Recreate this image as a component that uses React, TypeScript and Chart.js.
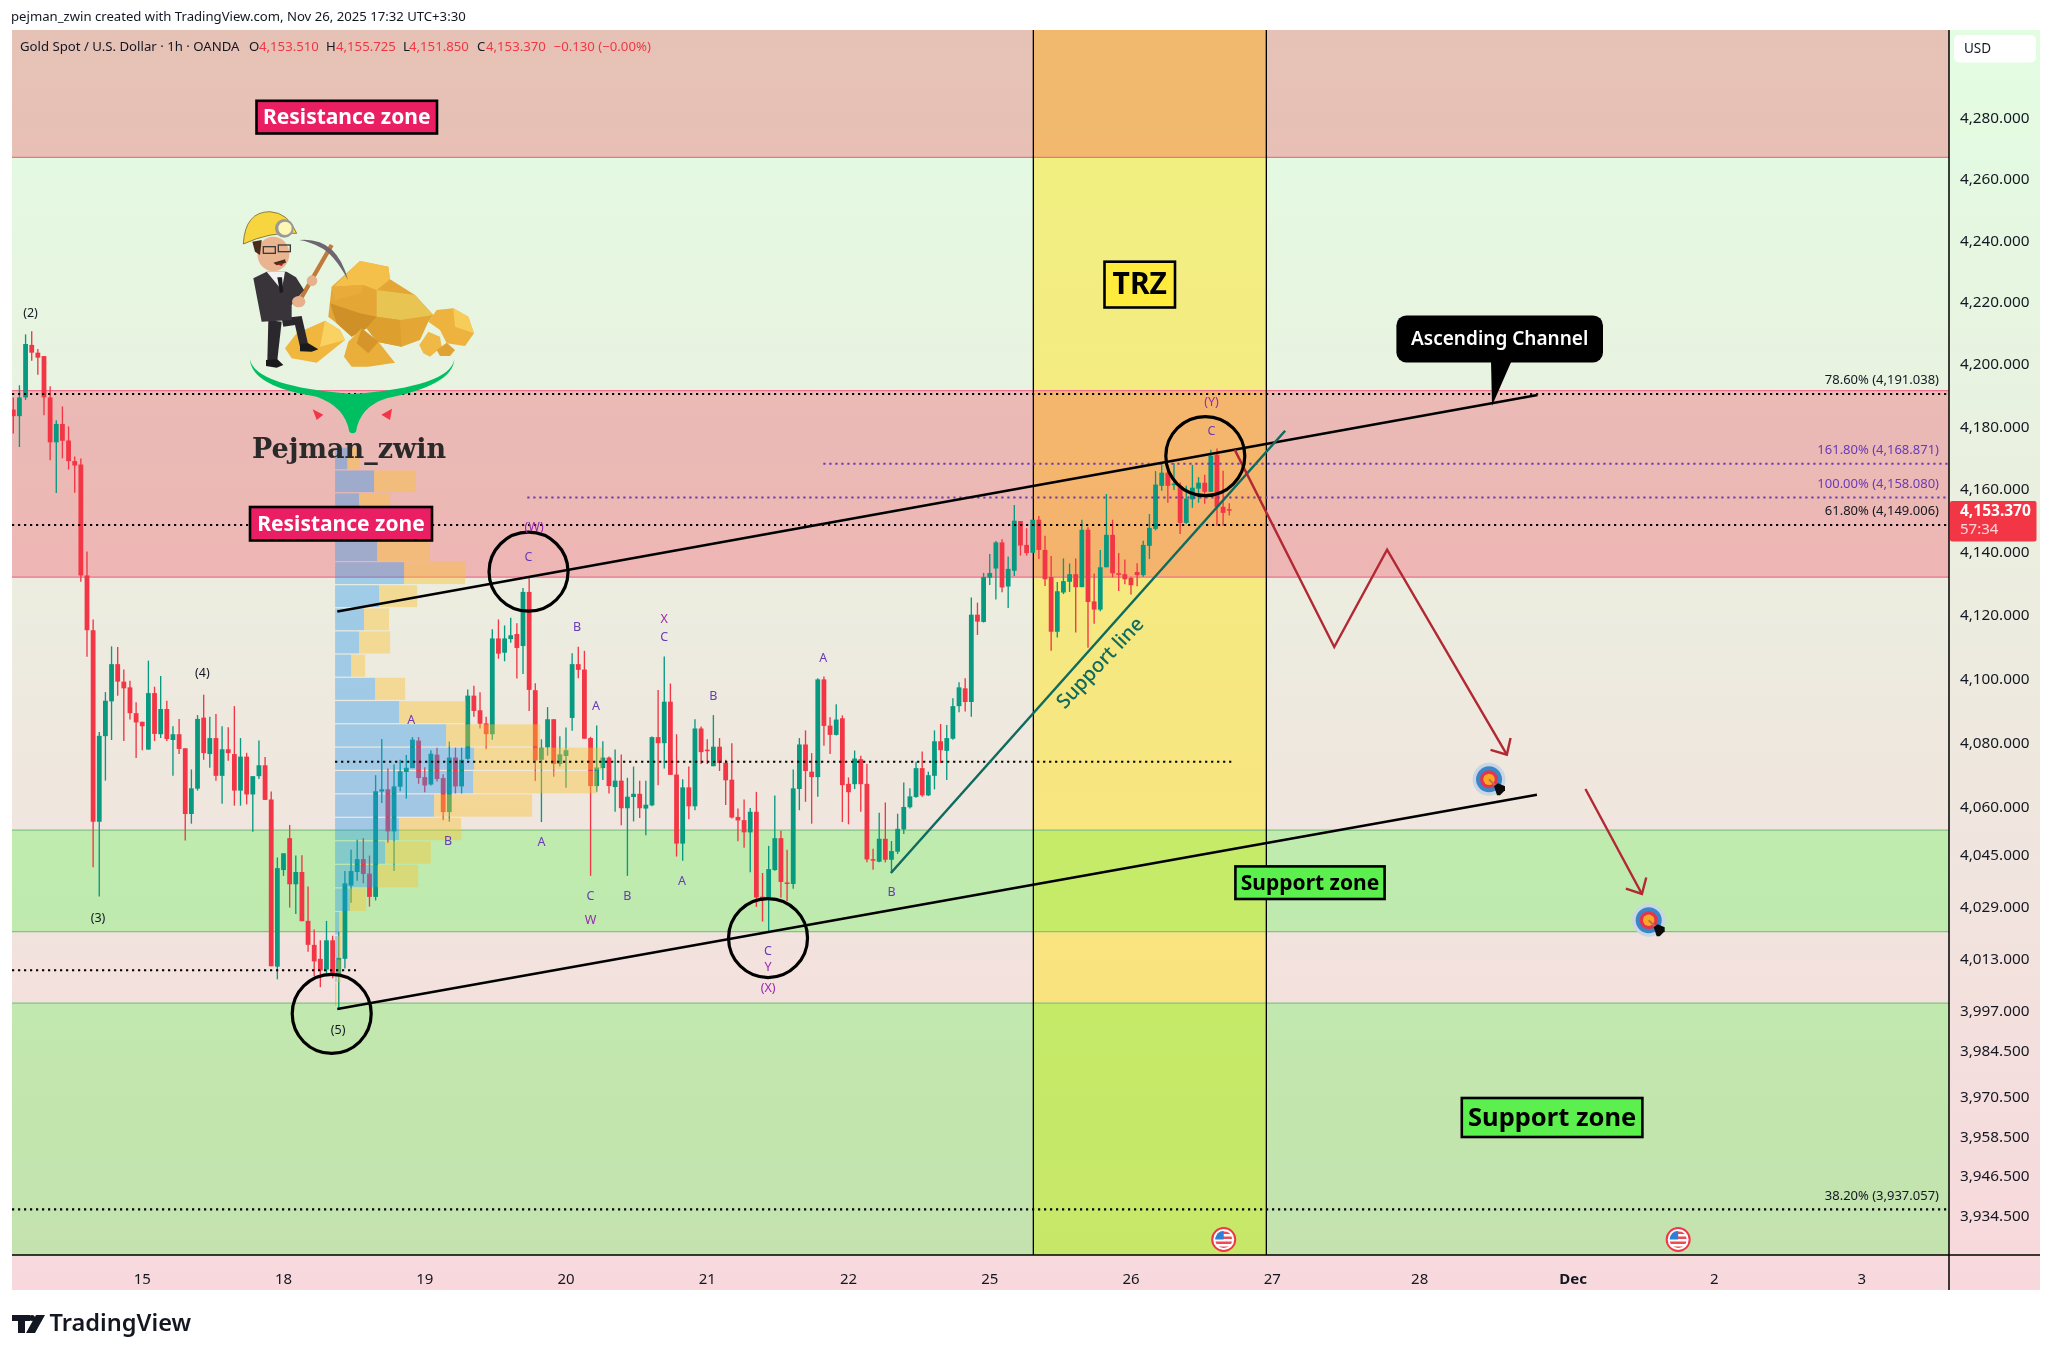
import React, { useEffect, useRef } from 'react';
import { Chart, registerables } from 'chart.js';

Chart.register(...registerables);

// --- candles (1h) ---
const opens = [
  4185.7, 4183.6, 4189.6, 4206.5, 4204.0, 4202.9, 4189.6, 4175.2, 4181.1, 4175.8,
  4169.2, 4168.1, 4132.8, 4115.5, 4055.5, 4082.2, 4093.1, 4104.8, 4099.3, 4097.5,
  4089.4, 4086.7, 4078.0, 4095.7, 4082.8, 4090.7, 4081.0, 4082.8, 4078.4, 4057.9,
  4065.8, 4088.0, 4076.6, 4081.6, 4069.8, 4078.1, 4076.6, 4065.2, 4075.8, 4064.0,
  4069.7, 4073.1, 4062.4, 4010.7, 4040.5, 4050.4, 4036.1, 4039.9, 4024.8, 4017.4,
  4013.1, 4009.8, 4018.8, 4007.8, 4013.1, 4035.7, 4039.9, 4043.9, 4039.4, 4032.2,
  4064.9, 4065.6, 4052.5, 4066.4, 4071.0, 4072.2, 4080.8, 4069.4, 4067.1, 4076.4,
  4069.1, 4058.5, 4075.5, 4066.5, 4075.1, 4094.9, 4090.3, 4086.2, 4082.8, 4112.9,
  4108.4, 4112.7, 4114.3, 4110.5, 4127.6, 4096.6, 4074.8, 4078.7, 4087.5, 4073.5,
  4076.0, 4087.9, 4104.8, 4103.1, 4081.6, 4066.6, 4072.2, 4075.5, 4066.3, 4068.3,
  4059.7, 4063.2, 4064.2, 4059.6, 4060.6, 4081.9, 4080.0, 4093.0, 4070.2, 4048.7,
  4066.2, 4060.3, 4084.6, 4077.7, 4072.8, 4078.9, 4073.9, 4068.6, 4057.0, 4056.0,
  4052.2, 4058.6, 4032.2, 4032.0, 4040.5, 4050.4, 4036.6, 4036.2, 4065.7, 4079.6,
  4071.1, 4069.4, 4100.0, 4085.5, 4082.6, 4087.8, 4067.3, 4067.2, 4075.0, 4067.3,
  4043.8, 4043.1, 4050.2, 4043.7, 4046.2, 4053.1, 4060.0, 4063.2, 4072.2, 4063.7,
  4069.8, 4080.6, 4077.6, 4081.4, 4091.6, 4097.2, 4092.9, 4120.4, 4118.1, 4132.1,
  4135.0, 4143.3, 4129.3, 4134.3, 4150.1, 4142.5, 4140.0, 4150.5, 4140.9, 4132.3,
  4115.0, 4127.4, 4130.8, 4133.2, 4129.1, 4147.3, 4124.6, 4122.0, 4135.4, 4145.7,
  4133.5, 4133.2, 4132.0, 4133.9, 4132.9, 4142.2, 4147.6, 4161.3, 4165.5, 4161.5,
  4161.3, 4149.5, 4157.0, 4160.4, 4162.3, 4159.4, 4171.2, 4154.6, 4153.51,
];
const highs = [
  4189.6, 4193.5, 4209.9, 4210.9, 4205.2, 4202.9, 4193.2, 4182.3, 4186.7, 4180.3,
  4170.7, 4170.0, 4140.4, 4118.9, 4083.5, 4096.0, 4110.4, 4110.2, 4103.1, 4099.6,
  4092.8, 4086.7, 4105.9, 4097.7, 4101.1, 4093.3, 4085.3, 4087.6, 4078.4, 4071.8,
  4088.8, 4095.2, 4088.3, 4089.1, 4085.3, 4085.0, 4091.6, 4081.6, 4077.0, 4069.7,
  4080.8, 4075.7, 4064.9, 4044.4, 4045.7, 4054.5, 4045.0, 4045.1, 4035.4, 4022.1,
  4018.8, 4024.8, 4020.2, 4021.4, 4040.2, 4046.8, 4049.9, 4050.4, 4045.0, 4070.0,
  4081.3, 4072.1, 4073.3, 4074.8, 4076.3, 4081.9, 4081.9, 4072.5, 4077.8, 4078.6,
  4070.3, 4080.5, 4078.6, 4078.6, 4096.8, 4098.0, 4096.0, 4088.3, 4115.8, 4118.9,
  4117.0, 4119.4, 4117.7, 4128.8, 4132.2, 4098.8, 4081.2, 4091.3, 4087.5, 4082.2,
  4084.9, 4108.2, 4110.3, 4109.0, 4082.0, 4085.5, 4080.6, 4075.8, 4078.0, 4076.5,
  4069.2, 4072.7, 4068.3, 4068.3, 4082.1, 4096.7, 4107.2, 4098.7, 4082.8, 4068.7,
  4072.7, 4087.5, 4085.2, 4081.2, 4088.8, 4081.6, 4074.8, 4080.0, 4059.6, 4062.4,
  4059.8, 4064.8, 4039.6, 4048.0, 4063.7, 4052.7, 4046.8, 4071.8, 4081.6, 4084.0,
  4076.9, 4100.4, 4100.9, 4088.1, 4092.2, 4088.7, 4069.3, 4077.7, 4076.1, 4073.5,
  4047.1, 4058.3, 4061.5, 4049.5, 4058.0, 4067.7, 4065.9, 4074.2, 4077.4, 4071.1,
  4084.0, 4086.0, 4085.7, 4094.1, 4099.1, 4100.4, 4125.8, 4124.2, 4133.6, 4139.6,
  4143.7, 4144.3, 4138.8, 4155.2, 4150.1, 4147.8, 4150.5, 4151.7, 4145.4, 4139.0,
  4130.7, 4138.2, 4136.6, 4138.2, 4150.5, 4148.1, 4133.4, 4140.9, 4158.7, 4150.5,
  4139.9, 4137.9, 4132.4, 4136.7, 4143.8, 4152.3, 4166.0, 4168.9, 4168.0, 4168.6,
  4162.4, 4161.3, 4168.0, 4164.1, 4164.8, 4172.8, 4173.2, 4166.1, 4155.725,
];
const lows = [
  4178.0, 4173.7, 4188.8, 4201.4, 4196.9, 4183.9, 4169.5, 4159.0, 4170.1, 4166.5,
  4159.1, 4130.8, 4107.1, 4041.4, 4032.3, 4068.3, 4081.0, 4094.9, 4080.7, 4087.4,
  4075.4, 4077.8, 4078.0, 4080.7, 4081.6, 4080.7, 4069.8, 4076.6, 4049.7, 4054.9,
  4065.2, 4074.8, 4072.3, 4068.3, 4061.1, 4074.5, 4060.5, 4060.5, 4060.9, 4052.4,
  4068.8, 4062.3, 4010.8, 4006.8, 4038.7, 4028.9, 4026.9, 4024.7, 4015.3, 4007.8,
  4004.4, 4007.8, 4007.1, 3997.6, 4010.1, 4030.4, 4037.2, 4036.4, 4029.2, 4031.1,
  4061.3, 4048.9, 4040.2, 4065.0, 4062.7, 4072.2, 4067.3, 4064.7, 4066.8, 4068.0,
  4056.0, 4055.5, 4064.3, 4064.3, 4074.8, 4088.3, 4084.6, 4078.1, 4081.1, 4106.5,
  4105.7, 4111.5, 4100.3, 4101.7, 4090.1, 4068.2, 4055.4, 4076.1, 4069.5, 4072.7,
  4066.1, 4083.9, 4100.4, 4081.4, 4038.7, 4064.8, 4068.5, 4064.3, 4058.6, 4054.4,
  4038.7, 4055.6, 4056.7, 4051.3, 4060.3, 4066.9, 4072.1, 4070.1, 4044.7, 4043.4,
  4056.3, 4059.1, 4073.5, 4073.5, 4072.8, 4071.3, 4060.7, 4056.5, 4049.4, 4047.4,
  4039.8, 4029.1, 4024.6, 4021.7, 4040.3, 4031.9, 4030.9, 4034.7, 4059.1, 4061.7,
  4054.9, 4063.3, 4079.2, 4076.6, 4082.4, 4055.4, 4054.7, 4065.7, 4058.6, 4042.9,
  4040.6, 4042.9, 4042.9, 4039.8, 4045.5, 4051.7, 4059.6, 4063.0, 4063.3, 4063.5,
  4065.6, 4073.8, 4068.5, 4081.1, 4089.7, 4089.9, 4088.3, 4114.0, 4117.9, 4129.8,
  4125.2, 4127.5, 4122.5, 4132.6, 4139.1, 4139.1, 4140.0, 4138.0, 4129.5, 4109.0,
  4113.2, 4126.9, 4127.6, 4114.8, 4129.1, 4110.0, 4117.5, 4121.5, 4135.4, 4132.2,
  4127.9, 4130.0, 4126.8, 4129.4, 4132.4, 4138.0, 4147.1, 4159.7, 4155.9, 4160.0,
  4146.0, 4149.2, 4154.3, 4155.9, 4155.6, 4159.4, 4148.6, 4148.6, 4151.85,
];
const closes = [
  4183.6, 4189.6, 4206.8, 4204.0, 4202.4, 4189.6, 4175.2, 4181.1, 4175.7, 4169.2,
  4167.8, 4132.8, 4115.5, 4055.5, 4082.3, 4093.3, 4104.8, 4099.3, 4097.2, 4089.4,
  4086.5, 4085.3, 4095.7, 4082.9, 4090.7, 4081.3, 4082.8, 4078.2, 4057.9, 4065.9,
  4087.6, 4076.9, 4081.6, 4069.8, 4078.1, 4076.9, 4065.2, 4075.8, 4064.0, 4069.7,
  4073.1, 4062.3, 4010.8, 4041.1, 4045.7, 4036.1, 4039.9, 4024.7, 4017.4, 4012.3,
  4009.5, 4018.8, 4007.8, 4013.4, 4036.4, 4040.2, 4043.9, 4039.3, 4032.2, 4065.0,
  4065.6, 4052.5, 4066.5, 4071.2, 4072.3, 4081.1, 4069.1, 4066.8, 4076.7, 4068.8,
  4058.5, 4075.5, 4066.5, 4074.8, 4094.9, 4090.1, 4086.1, 4082.8, 4112.9, 4108.1,
  4112.9, 4113.9, 4109.9, 4127.6, 4096.7, 4074.6, 4078.6, 4087.5, 4073.5, 4076.5,
  4077.8, 4104.8, 4103.0, 4081.4, 4066.6, 4072.4, 4075.5, 4066.6, 4068.3, 4059.7,
  4063.3, 4064.2, 4059.7, 4060.8, 4081.9, 4080.0, 4093.0, 4070.1, 4048.7, 4066.2,
  4060.3, 4084.6, 4077.2, 4077.5, 4078.9, 4073.8, 4068.4, 4056.8, 4055.9, 4052.2,
  4058.6, 4032.0, 4031.8, 4040.8, 4050.4, 4036.8, 4036.2, 4065.9, 4079.6, 4071.3,
  4069.4, 4100.0, 4085.4, 4082.6, 4087.4, 4066.9, 4064.7, 4075.2, 4067.2, 4043.8,
  4043.4, 4050.2, 4043.7, 4046.4, 4053.3, 4060.1, 4063.4, 4072.2, 4063.7, 4070.0,
  4080.6, 4077.8, 4081.6, 4091.6, 4097.5, 4092.9, 4120.4, 4118.2, 4132.3, 4133.6,
  4143.3, 4129.0, 4134.9, 4150.2, 4142.3, 4139.9, 4150.5, 4140.9, 4131.6, 4115.0,
  4127.8, 4131.0, 4133.2, 4129.1, 4147.3, 4124.4, 4122.0, 4135.4, 4145.7, 4133.5,
  4133.0, 4131.6, 4129.7, 4132.9, 4142.5, 4147.9, 4161.7, 4165.5, 4161.3, 4162.0,
  4149.5, 4157.2, 4160.7, 4162.3, 4159.4, 4170.9, 4154.5, 4152.7, 4153.37,
];

// --- axes ---
const priceTicks = [
  4280, 4260, 4240, 4220, 4200, 4180, 4160, 4140, 4120, 4100, 4080, 4060, 4045, 4029, 4013, 3997,
  3984.5, 3970.5, 3958.5, 3946.5, 3934.5,
];
const dayTicks = [21, 44, 67, 90, 113, 136, 159, 182, 205, 229, 254, 277, 301];
const dayLabels = ['15', '18', '19', '20', '21', '22', '25', '26', '27', '28', 'Dec', '2', '3'];

// --- zones, [price top, price bottom] ---
const resistanceZones = [
  [4315, 4267.4],
  [4191.8, 4132.3],
];
const supportZones = [
  [4052.9, 4021.5],
  [3999.5, 3900],
];
const reversalBars = [166.1, 204.04];

// --- volume profile ---
const vpStartBar = 52.4;
const vpRowTop = [
  4173.5, 4166.2, 4158.9, 4151.6, 4144.3, 4137.0, 4129.7, 4122.4, 4115.1, 4107.8, 4100.5, 4093.2,
  4085.9, 4078.6, 4071.3, 4064.0, 4056.7, 4049.4, 4042.1, 4034.8, 4027.5, 4020.2, 4012.9, 4005.6,
];
const vpUp = [
  2.0, 6.35, 3.9, 5.2, 6.84, 11.24, 7.17, 4.72, 3.91, 2.61, 6.51, 10.42, 18.08, 22.64, 22.48, 16.12,
  10.42, 8.14, 6.84, 2.44, 0.65, 0.43, 0.27, 0.1,
];
const vpDown = [
  2.0, 6.8, 5.05, 5.4, 8.58, 9.93, 6.19, 4.07, 5.05, 2.28, 4.89, 10.91, 15.31, 20.85, 20.2, 15.96,
  10.1, 7.44, 6.68, 2.61, 0.54, 0.65, 0.65, 0.16,
];

// --- drawings, in [bar, price] ---
const upperChannel = [[52.76, 4121.4], [248.2, 4190.4]];
const lowerChannel = [[52.76, 3997.7], [248.1, 4063.9]];
const supportLine = [[142.9, 4039.6], [207.1, 4178.9]];
const projectionA = [[198.9, 4172.8], [215.1, 4110.2], [223.7, 4141.0], [243.2, 4076.4]];
const projectionB = [[256.0, 4065.7], [265.2, 4033.1]];
const circles = [[51.85, 3996.2], [83.9, 4134.0], [122.9, 4019.5], [194.1, 4170.8]];
const targets = [[240.3, 4068.7], [266.3, 4025.0]];
const newsFlags = [197.1, 271.1];

const fibLevels = [
  { label: '78.60% (4,191.038)', price: 4191.038, from: -1, color: '#131722', line: '#000000', nudge: 1 },
  { label: '161.80% (4,168.871)', price: 4168.871, from: 131.9, color: '#673ab7', line: '#673ab7', nudge: 1.6 },
  { label: '100.00% (4,158.080)', price: 4158.08, from: 83.7, color: '#673ab7', line: '#673ab7', nudge: 1.6 },
  { label: '61.80% (4,149.006)', price: 4149.006, from: -1, color: '#131722', line: '#000000', nudge: 0.6 },
  { label: '38.20% (3,937.057)', price: 3937.057, from: -1, color: '#131722', line: '#000000', nudge: 1 },
];
const plainDotted = [
  [52.4, 198.4, 4074.2],
  [-1, 55.8, 4009.6],
];

const BLUE_WAVE = '#673ab7';
const PINK_WAVE = '#9c27b0';
const waveLabels: [string, number, number, string][] = [
  ['(2)', 2.8, 4216.7, '#131722'],
  ['(3)', 13.8, 4025.6, '#131722'],
  ['(4)', 30.8, 4101.9, '#131722'],
  ['(5)', 52.9, 3991.1, '#131722'],
  ['A', 64.8, 4087.0, BLUE_WAVE],
  ['B', 70.8, 4049.4, BLUE_WAVE],
  ['(W)', 84.8, 4147.9, PINK_WAVE],
  ['C', 83.9, 4138.4, BLUE_WAVE],
  ['B', 91.8, 4116.3, BLUE_WAVE],
  ['A', 94.9, 4091.4, BLUE_WAVE],
  ['A', 86.0, 4049.1, BLUE_WAVE],
  ['C', 94.0, 4032.4, BLUE_WAVE],
  ['W', 94.0, 4025.0, PINK_WAVE],
  ['B', 100.0, 4032.4, BLUE_WAVE],
  ['X', 106.0, 4118.8, PINK_WAVE],
  ['C', 106.0, 4113.1, BLUE_WAVE],
  ['A', 108.9, 4037.1, BLUE_WAVE],
  ['B', 114.0, 4094.5, BLUE_WAVE],
  ['A', 131.9, 4106.6, BLUE_WAVE],
  ['C', 122.9, 4015.5, BLUE_WAVE],
  ['Y', 122.9, 4010.3, PINK_WAVE],
  ['(X)', 122.9, 4004.0, PINK_WAVE],
  ['B', 143.0, 4033.7, BLUE_WAVE],
  ['(Y)', 195.1, 4188.1, PINK_WAVE],
  ['C', 195.1, 4178.7, BLUE_WAVE],
];

const candleColors = opens.map((o, i) => (closes[i] >= o ? '#089981' : '#f23645'));
const FONT = '"Noto Sans", sans-serif';
const LEFT = 12;
const RIGHT = 1949;
const TOP = 30;
const BOTTOM = 1255;
const OUTER_RIGHT = 2040;
const OUTER_BOTTOM = 1290;

function poly(ctx: any, pts: number[][], fill: string) {
  ctx.fillStyle = fill;
  ctx.beginPath();
  pts.forEach((p, i) => (i ? ctx.lineTo(p[0], p[1]) : ctx.moveTo(p[0], p[1])));
  ctx.closePath();
  ctx.fill();
}

function text(ctx: any, s: string, x: number, y: number, font: string, color: string, align = 'left') {
  ctx.font = font;
  ctx.fillStyle = color;
  ctx.textAlign = align;
  ctx.textBaseline = 'middle';
  ctx.fillText(s, x, y);
}

function labelBox(ctx: any, s: string, x0: number, y0: number, x1: number, y1: number, fill: string, color: string, font: string) {
  ctx.fillStyle = fill;
  ctx.fillRect(x0, y0, x1 - x0, y1 - y0);
  ctx.strokeStyle = '#000000';
  ctx.lineWidth = 2.6;
  ctx.strokeRect(x0, y0, x1 - x0, y1 - y0);
  text(ctx, s, (x0 + x1) / 2, (y0 + y1) / 2 + 1, font, color, 'center');
}

// miner mascot, drawn in 3x units of a 280x120 box
function drawMiner(ctx: any) {
  ctx.save();
  ctx.translate(220, 190);
  ctx.scale(1 / 3, 1 / 3);
  // rocks
  poly(ctx, [[335, 290], [420, 213], [505, 230], [510, 268], [585, 315], [640, 375], [625, 395], [600, 450], [545, 470], [470, 455], [440, 415], [395, 440], [350, 400], [325, 380]], '#e4a735');
  poly(ctx, [[420, 213], [505, 230], [510, 268], [470, 300], [430, 285], [340, 290]], '#f5c04a');
  poly(ctx, [[335, 290], [430, 285], [425, 310], [345, 330]], '#e9ab3a');
  poly(ctx, [[470, 300], [585, 315], [640, 375], [540, 390], [470, 380]], '#e8c552');
  poly(ctx, [[330, 340], [420, 370], [470, 380], [440, 415], [395, 440], [350, 400]], '#cf9028');
  poly(ctx, [[470, 380], [540, 390], [545, 470], [470, 455], [440, 415]], '#dd9f2e');
  poly(ctx, [[195, 475], [230, 430], [315, 392], [360, 420], [375, 450], [290, 518], [215, 505]], '#f0b63e');
  poly(ctx, [[315, 392], [360, 420], [375, 450], [300, 470]], '#f9d262');
  poly(ctx, [[372, 500], [385, 455], [425, 415], [475, 455], [525, 518], [445, 530], [395, 530]], '#eaae3a');
  poly(ctx, [[425, 415], [475, 455], [445, 490], [410, 460]], '#d5952b');
  poly(ctx, [[625, 395], [650, 360], [700, 355], [745, 380], [762, 430], [735, 468], [680, 460], [660, 420]], '#eeb23e');
  poly(ctx, [[700, 355], [745, 380], [762, 430], [705, 410]], '#f7cd5a');
  poly(ctx, [[598, 465], [625, 425], [660, 440], [665, 470], [630, 500], [610, 490]], '#f0b844');
  poly(ctx, [[650, 480], [680, 458], [705, 480], [690, 498], [660, 498]], '#e0a233');
  // pickaxe
  ctx.strokeStyle = '#c27a3a';
  ctx.lineWidth = 13;
  ctx.beginPath();
  ctx.moveTo(240, 330);
  ctx.lineTo(335, 165);
  ctx.stroke();
  ctx.fillStyle = '#6d6670';
  ctx.beginPath();
  ctx.moveTo(238, 150);
  ctx.quadraticCurveTo(350, 140, 384, 270);
  ctx.quadraticCurveTo(340, 190, 300, 172);
  ctx.quadraticCurveTo(270, 155, 238, 150);
  ctx.fill();
  // legs and shoes
  poly(ctx, [[145, 390], [185, 395], [172, 510], [142, 510]], '#2a282c');
  poly(ctx, [[185, 385], [245, 378], [265, 465], [240, 470], [225, 405], [190, 410]], '#2a282c');
  poly(ctx, [[138, 510], [172, 508], [190, 525], [170, 533], [138, 528]], '#1a1a1a');
  poly(ctx, [[240, 462], [265, 460], [295, 478], [275, 485], [240, 484]], '#1a1a1a');
  // suit, shirt, tie
  poly(ctx, [[100, 265], [140, 245], [200, 245], [228, 262], [252, 300], [215, 345], [215, 390], [125, 395]], '#38343a');
  poly(ctx, [[140, 245], [195, 245], [185, 300]], '#f2f2f2');
  poly(ctx, [[172, 262], [186, 262], [190, 305], [180, 310]], '#1b1b1e');
  // hands
  ctx.fillStyle = '#e8b18c';
  ctx.beginPath();
  ctx.ellipse(236, 335, 20, 17, 0, 0, Math.PI * 2);
  ctx.ellipse(276, 272, 16, 16, 0, 0, Math.PI * 2);
  ctx.fill();
  // head
  ctx.fillStyle = '#eab491';
  ctx.beginPath();
  ctx.ellipse(160, 192, 48, 52, 0, 0, Math.PI * 2);
  ctx.fill();
  poly(ctx, [[97, 155], [125, 150], [120, 195], [105, 185]], '#4a2c1b');
  ctx.strokeStyle = '#3b3b3b';
  ctx.lineWidth = 4;
  ctx.strokeRect(130, 170, 36, 20);
  ctx.strokeRect(175, 165, 36, 20);
  poly(ctx, [[160, 218], [195, 208], [198, 218], [170, 226]], '#4a2c1b');
  poly(ctx, [[168, 222], [192, 218], [185, 228]], '#a3202a');
  // helmet
  ctx.fillStyle = '#f6d53f';
  ctx.strokeStyle = '#5a4a20';
  ctx.lineWidth = 2;
  ctx.beginPath();
  ctx.moveTo(70, 162);
  ctx.quadraticCurveTo(75, 65, 150, 65);
  ctx.quadraticCurveTo(205, 68, 230, 130);
  ctx.quadraticCurveTo(150, 125, 70, 162);
  ctx.fill();
  ctx.stroke();
  ctx.fillStyle = '#9a9a96';
  ctx.beginPath();
  ctx.arc(193, 115, 28, 0, Math.PI * 2);
  ctx.fill();
  ctx.fillStyle = '#fdf6b4';
  ctx.beginPath();
  ctx.arc(195, 115, 20, 0, Math.PI * 2);
  ctx.fill();
  // green swoosh
  ctx.fillStyle = '#00bf63';
  ctx.beginPath();
  ctx.moveTo(90, 508);
  ctx.quadraticCurveTo(105, 590, 400, 612);
  ctx.quadraticCurveTo(690, 590, 703, 508);
  ctx.quadraticCurveTo(700, 585, 500, 625);
  ctx.quadraticCurveTo(420, 650, 408, 725);
  ctx.quadraticCurveTo(398, 735, 388, 725);
  ctx.quadraticCurveTo(375, 650, 290, 620);
  ctx.quadraticCurveTo(95, 590, 90, 508);
  ctx.fill();
  poly(ctx, [[278, 658], [310, 674], [290, 690]], '#f23645');
  poly(ctx, [[484, 674], [516, 656], [510, 690]], '#f23645');
  ctx.restore();
}

function drawTarget(ctx: any, x: number, y: number) {
  const rings: [number, string][] = [[16.5, '#c9d6e3'], [13, '#3a87c8'], [9, '#e5344e'], [5.7, '#f8a825']];
  rings.forEach(([r, c]) => {
    ctx.fillStyle = c;
    ctx.beginPath();
    ctx.arc(x, y, r, 0, Math.PI * 2);
    ctx.fill();
  });
  ctx.strokeStyle = '#c96a4a';
  ctx.lineWidth = 2;
  ctx.beginPath();
  ctx.moveTo(x, y);
  ctx.lineTo(x + 12, y + 12);
  ctx.stroke();
  poly(ctx, [[x + 5, y + 7], [x + 9, y + 4], [x + 16, y + 7], [x + 16, y + 11], [x + 11, y + 16], [x + 8, y + 16]], '#0b0b0b');
}

function drawFlag(ctx: any, x: number, y: number) {
  ctx.fillStyle = '#ffffff';
  ctx.strokeStyle = '#f23645';
  ctx.lineWidth = 2;
  ctx.beginPath();
  ctx.arc(x, y, 11.5, 0, Math.PI * 2);
  ctx.fill();
  ctx.stroke();
  ctx.save();
  ctx.beginPath();
  ctx.arc(x, y, 8.5, 0, Math.PI * 2);
  ctx.clip();
  ctx.fillStyle = '#ef4a55';
  for (let k = -8; k < 9; k += 5) ctx.fillRect(x - 9, y + k, 18, 2.5);
  ctx.fillStyle = '#2e7fd6';
  ctx.fillRect(x - 9, y - 9, 9, 9);
  ctx.restore();
}

const backgroundPlugin = {
  id: 'tvBackground',
  beforeDraw(chart: any) {
    const { ctx } = chart;
    const g = ctx.createLinearGradient(0, TOP, 0, OUTER_BOTTOM);
    g.addColorStop(0, '#e2fde2');
    g.addColorStop(1, '#f8d8dc');
    ctx.save();
    ctx.fillStyle = '#ffffff';
    ctx.fillRect(0, 0, 2052, 1358);
    ctx.fillStyle = g;
    ctx.fillRect(LEFT, TOP, OUTER_RIGHT - LEFT, OUTER_BOTTOM - TOP);
    ctx.restore();
  },
  beforeDatasetsDraw(chart: any) {
    const { ctx, scales } = chart;
    const x = scales.x;
    const y = scales.y;
    ctx.save();
    ctx.beginPath();
    ctx.rect(LEFT, TOP, RIGHT - LEFT, BOTTOM - TOP);
    ctx.clip();
    // reversal band first, zones tint it
    const bx0 = x.getPixelForValue(reversalBars[0]);
    const bx1 = x.getPixelForValue(reversalBars[1]);
    ctx.fillStyle = 'rgba(255,230,34,0.5)';
    ctx.fillRect(bx0, TOP, bx1 - bx0, BOTTOM - TOP);
    const zone = (z: number[], fill: string, edge: string) => {
      const t = y.getPixelForValue(z[0]);
      const b = y.getPixelForValue(z[1]);
      ctx.fillStyle = fill;
      ctx.fillRect(LEFT, t, RIGHT - LEFT, b - t);
      ctx.strokeStyle = edge;
      ctx.lineWidth = 1.3;
      ctx.beginPath();
      ctx.moveTo(LEFT, t);
      ctx.lineTo(RIGHT, t);
      ctx.moveTo(LEFT, b);
      ctx.lineTo(RIGHT, b);
      ctx.stroke();
    };
    resistanceZones.forEach((z) => zone(z, 'rgba(242,20,50,0.25)', '#ee6f8e'));
    supportZones.forEach((z) => zone(z, 'rgba(44,255,36,0.25)', '#82c382'));
    ctx.strokeStyle = '#000000';
    ctx.lineWidth = 1.3;
    ctx.beginPath();
    ctx.moveTo(bx0, TOP);
    ctx.lineTo(bx0, BOTTOM);
    ctx.moveTo(bx1, TOP);
    ctx.lineTo(bx1, BOTTOM);
    ctx.stroke();
    ctx.restore();
  },
  afterDatasetsDraw(chart: any) {
    const { ctx, scales } = chart;
    const x = scales.x;
    const y = scales.y;
    const px = (v: number) => x.getPixelForValue(v);
    const py = (v: number) => y.getPixelForValue(v);
    ctx.save();

    // volume profile over the candles
    vpRowTop.forEach((top, i) => {
      const t = py(top);
      const b = py(top - 7.3) - 1.2;
      const x0 = px(vpStartBar);
      const x1 = px(vpStartBar + vpUp[i]);
      const x2 = px(vpStartBar + vpUp[i] + vpDown[i]);
      ctx.fillStyle = 'rgba(33,150,243,0.38)';
      ctx.fillRect(x0, t, x1 - x0, b - t);
      ctx.fillStyle = 'rgba(251,192,45,0.42)';
      ctx.fillRect(x1, t, x2 - x1, b - t);
    });

    // dotted levels
    const dotted = (from: number, to: number, yy: number, color: string) => {
      ctx.strokeStyle = color;
      ctx.lineWidth = 2.1;
      ctx.setLineDash([2.2, 3.8]);
      ctx.beginPath();
      ctx.moveTo(Math.max(LEFT, px(from)), yy);
      ctx.lineTo(to, yy);
      ctx.stroke();
      ctx.setLineDash([]);
    };
    fibLevels.forEach((f) => {
      const yy = py(f.price) + f.nudge;
      dotted(f.from, RIGHT, yy, f.line);
      text(ctx, f.label, 1939, yy - 13.5, `13px ${FONT}`, f.color, 'right');
    });
    plainDotted.forEach((d) => dotted(d[0], px(d[1]), py(d[2]), '#000000'));

    const polyline = (pts: number[][], color: string, width: number) => {
      ctx.strokeStyle = color;
      ctx.lineWidth = width;
      ctx.lineJoin = 'miter';
      ctx.beginPath();
      pts.forEach((p, i) => (i ? ctx.lineTo(px(p[0]), py(p[1])) : ctx.moveTo(px(p[0]), py(p[1]))));
      ctx.stroke();
    };
    const arrowHead = (pts: number[][], color: string) => {
      const a = pts[pts.length - 2];
      const b = pts[pts.length - 1];
      const tx = px(b[0]);
      const ty = py(b[1]);
      const ang = Math.atan2(ty - py(a[1]), tx - px(a[0]));
      ctx.strokeStyle = color;
      ctx.lineWidth = 2.4;
      ctx.beginPath();
      ctx.moveTo(tx - 17 * Math.cos(ang - 0.75), ty - 17 * Math.sin(ang - 0.75));
      ctx.lineTo(tx, ty);
      ctx.lineTo(tx - 17 * Math.cos(ang + 0.75), ty - 17 * Math.sin(ang + 0.75));
      ctx.stroke();
    };
    polyline(upperChannel, '#000000', 2.5);
    polyline(lowerChannel, '#000000', 2.5);
    polyline(supportLine, '#0e6b5e', 2.5);
    polyline(projectionA, '#b22833', 2.4);
    arrowHead(projectionA, '#b22833');
    polyline(projectionB, '#b22833', 2.4);
    arrowHead(projectionB, '#b22833');

    ctx.strokeStyle = '#000000';
    ctx.lineWidth = 3.2;
    circles.forEach((c) => {
      ctx.beginPath();
      ctx.arc(px(c[0]), py(c[1]), 39.5, 0, Math.PI * 2);
      ctx.stroke();
    });

    waveLabels.forEach(([s, b, p, c]) => {
      text(ctx, s, px(b), py(p), `12.5px ${FONT}`, c, 'center');
    });

    targets.forEach((t) => drawTarget(ctx, px(t[0]), py(t[1])));
    newsFlags.forEach((b) => drawFlag(ctx, px(b), 1239.5));

    // mascot and captions
    drawMiner(ctx);
    text(ctx, 'Pejman_zwin', 349, 451, 'bold 27px "DejaVu Serif", serif', '#2a2a2a', 'center');
    labelBox(ctx, 'Resistance zone', 256.5, 100.8, 437, 133.5, '#e91e63', '#ffffff', `bold 21px ${FONT}`);
    labelBox(ctx, 'Resistance zone', 250, 507, 432, 540.5, '#e91e63', '#ffffff', `bold 21px ${FONT}`);
    labelBox(ctx, 'TRZ', 1104.5, 261.7, 1175, 307.5, '#ffeb3b', '#000000', `bold 30px ${FONT}`);
    labelBox(ctx, 'Support zone', 1235.4, 866.4, 1384.6, 899, '#5cf04e', '#000000', `bold 21px ${FONT}`);
    labelBox(ctx, 'Support zone', 1461.8, 1098, 1642.4, 1137, '#5cf04e', '#000000', `bold 25.5px ${FONT}`);

    // ascending channel callout
    ctx.fillStyle = '#000000';
    ctx.beginPath();
    ctx.roundRect(1396.4, 315.4, 206.6, 47, 10);
    ctx.fill();
    poly(ctx, [[1491, 360], [1512, 360], [1492, 405.7]], '#000000');
    text(ctx, 'Ascending Channel', 1499.7, 339.5, `600 19px ${FONT}`, '#ffffff', 'center');

    // rotated trend caption
    ctx.save();
    ctx.translate(1100.6, 663.5);
    ctx.rotate((-46.6 * Math.PI) / 180);
    text(ctx, 'Support line', 0, 0, `500 20px ${FONT}`, '#0e6b5e', 'center');
    ctx.restore();

    // pane frame
    ctx.strokeStyle = '#000000';
    ctx.lineWidth = 1.5;
    ctx.beginPath();
    ctx.moveTo(RIGHT, TOP);
    ctx.lineTo(RIGHT, OUTER_BOTTOM);
    ctx.moveTo(LEFT, BOTTOM);
    ctx.lineTo(OUTER_RIGHT, BOTTOM);
    ctx.stroke();

    // USD box and last price tag
    ctx.fillStyle = '#ffffff';
    ctx.beginPath();
    ctx.roundRect(1954, 35, 82, 27.5, 5);
    ctx.fill();
    text(ctx, 'USD', 1964, 49, `13.5px ${FONT}`, '#131722');
    ctx.fillStyle = '#f23645';
    ctx.beginPath();
    ctx.roundRect(1950, 501, 86.5, 40.5, 2);
    ctx.fill();
    text(ctx, '4,153.370', 1960, 511.5, `bold 15.5px ${FONT}`, '#ffffff');
    text(ctx, '57:34', 1960, 530, `15px ${FONT}`, '#ffd5d9');

    // header, legend, logo
    text(ctx, 'pejman_zwin created with TradingView.com, Nov 26, 2025 17:32 UTC+3:30', 11, 17, `13.15px ${FONT}`, '#131722');
    text(ctx, 'Gold Spot / U.S. Dollar · 1h · OANDA', 20, 47, `13.2px ${FONT}`, '#131722');
    const ohlc: [string, number, string, number][] = [
      ['O', 249, '4,153.510', 259],
      ['H', 326, '4,155.725', 336],
      ['L', 403, '4,151.850', 409],
      ['C', 477, '4,153.370', 486],
    ];
    ohlc.forEach(([k, kx, v, vx]) => {
      text(ctx, k, kx, 47, `13.2px ${FONT}`, '#131722');
      text(ctx, v, vx, 47, `13.2px ${FONT}`, '#f23645');
    });
    text(ctx, '−0.130 (−0.00%)', 553.6, 47, `13.2px ${FONT}`, '#f23645');

    ctx.fillStyle = '#131722';
    ctx.fillRect(12, 1315, 18, 6);
    ctx.fillRect(18, 1315, 7, 18);
    ctx.beginPath();
    ctx.arc(32, 1318, 3, 0, Math.PI * 2);
    ctx.fill();
    poly(ctx, [[36, 1315], [45, 1315], [35, 1333], [26, 1333]], '#131722');
    text(ctx, 'TradingView', 49.5, 1324, `600 23.6px ${FONT}`, '#131722');
    ctx.restore();
  },
};

export default function App() {
  const canvasRef = useRef<HTMLCanvasElement>(null);

  useEffect(() => {
    if (!canvasRef.current) return;
    const bars = opens.map((_, i) => i);

    const chart = new Chart(canvasRef.current, {
      type: 'bar',
      data: {
        datasets: [
          {
            label: 'wick',
            data: bars.map((i) => ({ x: i, y: [lows[i], highs[i]] })),
            backgroundColor: candleColors,
            grouped: false,
            categoryPercentage: 1,
            barPercentage: 0.22,
            order: 2,
          },
          {
            label: 'body',
            data: bars.map((i) => ({ x: i, y: [Math.min(opens[i], closes[i]), Math.max(opens[i], closes[i])] })),
            backgroundColor: candleColors,
            grouped: false,
            categoryPercentage: 1,
            barPercentage: 0.78,
            minBarLength: 1.5,
            order: 1,
          },
        ] as any,
      },
      options: {
        animation: false,
        responsive: false,
        devicePixelRatio: 1,
        layout: { padding: { left: LEFT, top: TOP, right: 2052 - OUTER_RIGHT, bottom: 1358 - OUTER_BOTTOM } },
        plugins: { legend: { display: false }, tooltip: { enabled: false } },
        scales: {
          x: {
            type: 'linear',
            min: -0.21,
            max: 315.2,
            offset: false,
            grid: { display: false, offset: false },
            border: { display: false },
            afterBuildTicks: (s: any) => {
              s.ticks = dayTicks.map((v) => ({ value: v }));
            },
            afterFit: (s: any) => {
              s.height = OUTER_BOTTOM - BOTTOM;
            },
            ticks: {
              autoSkip: false,
              maxRotation: 0,
              padding: 8,
              color: '#131722',
              font: (c: any) => ({
                family: FONT,
                size: 15,
                weight: dayLabels[c.index] === 'Dec' ? 'bold' : 'normal',
              }),
              callback: (_v: any, i: number) => dayLabels[i],
            },
          },
          y: {
            type: 'logarithmic',
            position: 'right',
            min: 3923,
            max: 4309.3,
            bounds: 'data',
            grid: { display: false },
            border: { display: false },
            afterBuildTicks: (s: any) => {
              s.ticks = priceTicks.map((v) => ({ value: v, major: false }));
            },
            afterFit: (s: any) => {
              s.width = OUTER_RIGHT - RIGHT;
            },
            ticks: {
              autoSkip: false,
              padding: 3,
              color: '#131722',
              font: { family: FONT, size: 15.3 },
              callback: (v: any) =>
                Number(v).toLocaleString('en-US', { minimumFractionDigits: 3, maximumFractionDigits: 3 }),
            },
          },
        },
      } as any,
      plugins: [backgroundPlugin],
    });

    return () => chart.destroy();
  }, []);

  return (
    <div style={{ position: 'absolute', left: 0, top: 0, width: 2052, height: 1358, background: '#ffffff' }}>
      <canvas ref={canvasRef} width={2052} height={1358} style={{ display: 'block' }} />
    </div>
  );
}
